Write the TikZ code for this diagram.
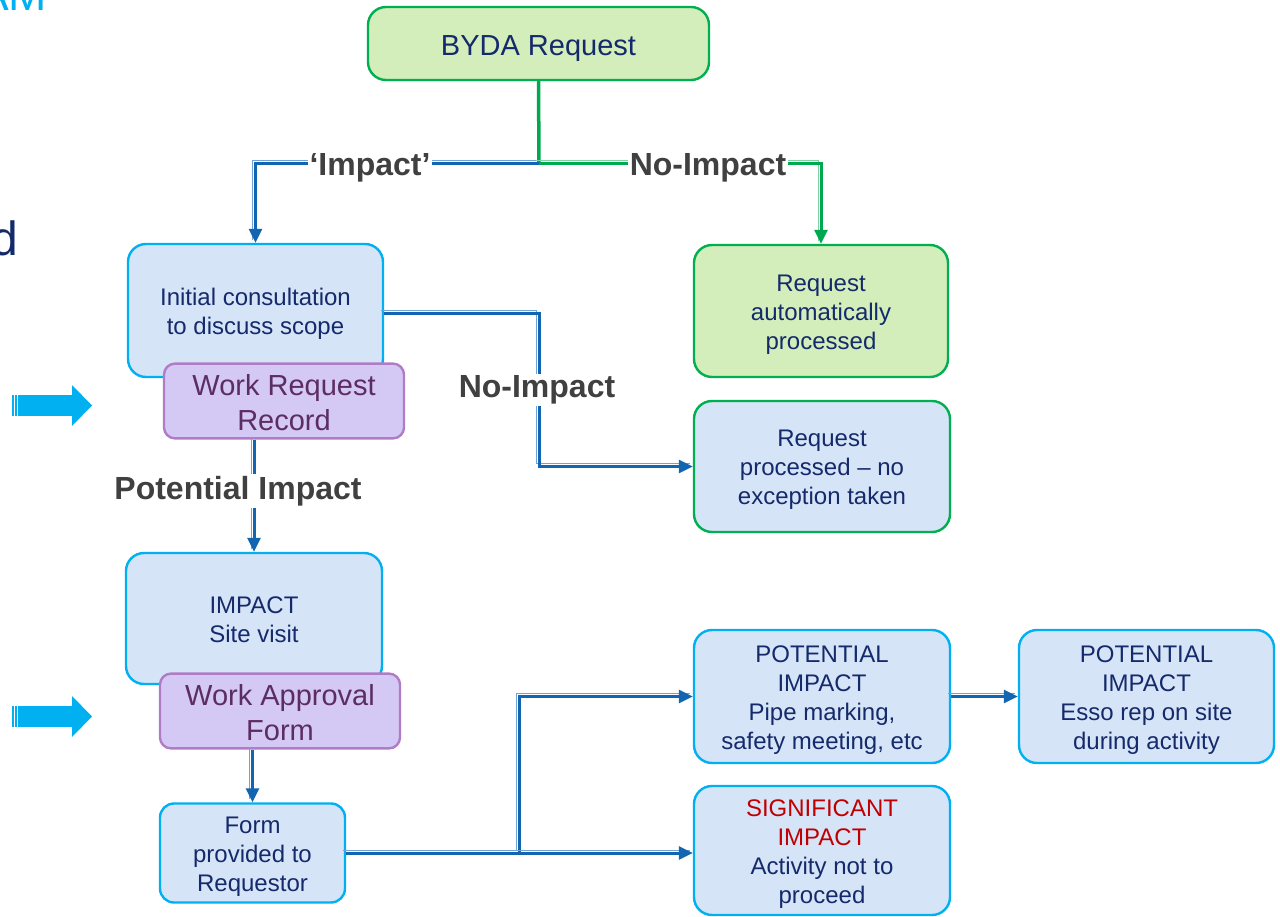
\documentclass[tikz,border=0pt]{standalone}
\usepackage{fontspec}
\setmainfont{Liberation Sans}
\usetikzlibrary{arrows.meta}
\definecolor{gborder}{HTML}{00B050}
\definecolor{gfill}{HTML}{D3EDBB}
\definecolor{bfill}{HTML}{D6E4F8}
\definecolor{cborder}{HTML}{00B0F0}
\definecolor{lfill}{HTML}{D4C8F5}
\definecolor{lborder}{HTML}{B07CC6}
\definecolor{ltext}{HTML}{5C2D62}
\definecolor{navy}{HTML}{142A6A}
\definecolor{conn}{HTML}{1265B0}
\definecolor{connlt}{HTML}{6FA3D8}
\definecolor{gconn}{HTML}{00A94F}
\definecolor{gconnlt}{HTML}{7FD3A2}
\definecolor{lbl}{HTML}{404040}
\definecolor{sigred}{HTML}{C00000}
\newcommand{\tstr}{\rule{0pt}{25.6pt}}
\newcommand{\bstr}{\rule[-7pt]{0pt}{7pt}}
\newcommand{\tstrB}{\rule{0pt}{31.8pt}}
\newcommand{\bstrB}{\rule[-8pt]{0pt}{8pt}}
\tikzset{
  box/.style={rounded corners=18pt, line width=2.4pt, align=center, inner sep=0pt, text=navy,
    font=\fontsize{24}{29}\selectfont},
  bigtext/.style={font=\fontsize{29}{35}\selectfont},
  bluebox/.style={box, fill=bfill, draw=cborder},
  greenbox/.style={box, fill=gfill, draw=gborder},
  gbluebox/.style={box, fill=bfill, draw=gborder},
  recbox/.style={box, rounded corners=11pt, text=ltext,
    fill=lfill, draw=lborder, minimum width=240pt, bigtext},
  bconn/.style={line width=3pt, draw=conn,
    preaction={draw=connlt, line width=1pt, -, transform canvas={shift={(-3pt,3pt)}}}},
  gconnst/.style={line width=3pt, draw=gconn,
    preaction={draw=gconnlt, line width=1pt, -, transform canvas={shift={(-3pt,3pt)}}}},
  tip/.style={-{Triangle[length=14pt,width=13pt]}},
  lab/.style={fill=white, inner sep=2pt, text=lbl, font=\bfseries\fontsize{32}{36}\selectfont},
  bigarrow/.style={fill=cborder, draw=none}
}
\begin{document}
\begin{tikzpicture}[x=1pt,y=-1pt]
\useasboundingbox (0,0) rectangle (1280,916);
% cut-off slide texts
\node[anchor=base west, inner sep=0pt, text=cborder, font=\fontsize{46}{46}\selectfont] (ttl) at (-22,10) {AM};
\node[anchor=base east, inner sep=0pt, text=navy, font=\fontsize{48}{48}\selectfont] (dd) at (18,255) {d};
% big arrows
\fill[bigarrow] (18,395) rectangle (72,416);
\fill[bigarrow] (72,385) -- (92,405.5) -- (72,426) -- cycle;
\fill[bigarrow] (12,395) rectangle (13.5,416);
\fill[bigarrow] (15,395) rectangle (16.5,416);
\fill[bigarrow] (18,706) rectangle (72,727);
\fill[bigarrow] (72,696) -- (92,716.5) -- (72,737) -- cycle;
\fill[bigarrow] (12,706) rectangle (13.5,727);
\fill[bigarrow] (15,706) rectangle (16.5,727);
% nodes
\node[greenbox, bigtext, minimum width=341pt, minimum height=73pt] (byda) at (538.5,43.5) {\tstrB BYDA Request\bstrB};
\node[bluebox, minimum width=255pt, minimum height=133pt] (init) at (255.5,310.5) {\tstr Initial consultation\\to discuss scope\bstr};
\node[recbox, minimum height=72pt] (wrr) at (284,401) {\tstrB Work Request\\Record\bstrB};
\node[greenbox, minimum width=254pt, minimum height=132pt] (auto) at (821,311) {\tstr Request\\automatically\\processed\bstr};
\node[gbluebox, minimum width=256pt, minimum height=131pt] (noexc) at (822,466.5) {\tstr Request\\processed -- no\\exception taken\bstr};
\node[bluebox, minimum width=256pt, minimum height=131pt] (site) at (254,618.5) {\tstr IMPACT\\Site visit\bstr};
\node[recbox, minimum height=68pt] (waf) at (280,711) {\tstrB Work Approval\\Form\bstrB};
\node[bluebox, rounded corners=14pt, minimum width=185pt, minimum height=99pt] (form) at (252.5,853) {\tstr Form\\provided to\\Requestor\bstr};
\node[bluebox, minimum width=256pt, minimum height=133pt] (pot1) at (822,696.5) {\tstr POTENTIAL\\IMPACT\\Pipe marking,\\safety meeting, etc\bstr};
\node[bluebox, minimum width=255pt, minimum height=133pt] (pot2) at (1146.5,696.5) {\tstr POTENTIAL\\IMPACT\\Esso rep on site\\during activity\bstr};
\node[bluebox, minimum width=256pt, minimum height=129pt] (sig) at (822,850.5) {\tstr\textcolor{sigred}{SIGNIFICANT}\\\textcolor{sigred}{IMPACT}\\Activity not to\\proceed\bstr};
% coordinates
\coordinate (j) at (539,163);
\coordinate (k) at (539,0);
\coordinate (m) at (519,0);
% connectors
\draw[line width=3.5pt, draw=gconn] (byda.south) -- (j);
\draw[bconn, tip] (j) -| (init.north);
\draw[gconnst, tip] (j) -| (auto.north);
\draw[bconn, tip] ([yshift=-2.5pt]init.east) -- ([yshift=-2.5pt]init.east -| k) -- (k |- noexc.west) -- (noexc.west);
\draw[bconn, tip] (site.north |- wrr.south) -- (site.north);
\draw[bconn, tip] (form.north |- waf.south) -- (form.north);
\draw[bconn, tip] (form.east) -- (form.east -| m) -- (m |- pot1.west) -- (pot1.west);
\draw[bconn, tip] (form.east) -- (form.east -| sig.west);
\draw[bconn, tip] (pot1.east) -- (pot2.west);
% labels
\node[lab] (l1) at (370,168) {`Impact'};
\node[lab] (l2) at (708,168) {No-Impact};
\node[lab] (l3) at (537,390) {No-Impact};
\node[lab] (l4) at (238,491) {Potential Impact};
\end{tikzpicture}
\end{document}
